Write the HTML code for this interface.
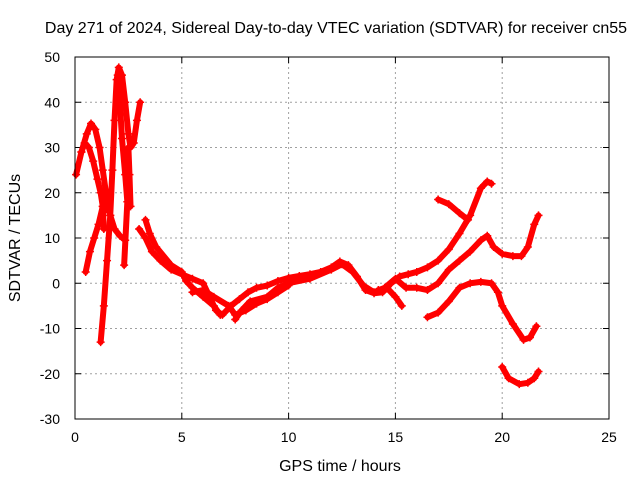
<!DOCTYPE html>
<html><head><meta charset="utf-8"><style>
body{margin:0;background:#fff}
svg{display:block;font-family:"Liberation Sans",sans-serif}
</style></head><body>
<svg id="chart" width="640" height="480">
<text x="336" y="33" font-size="16" text-anchor="middle">Day 271 of 2024, Sidereal Day-to-day VTEC variation (SDTVAR) for receiver cn55</text>
<text x="340" y="471" font-size="16" text-anchor="middle">GPS time / hours</text>
<text transform="translate(20,238) rotate(-90)" font-size="16" text-anchor="middle">SDTVAR / TECUs</text>
<g id="grid"></g><g id="series"></g>
<rect x="75" y="57" width="534" height="362" fill="none" stroke="#000" stroke-width="1"/>
</svg>
<script>
const xTicks=[0,5,10,15,20,25];
const yTicks=[-30,-20,-10,0,10,20,30,40,50];
const seriesA=[[0.05,24],[0.3,29],[0.55,33],[0.75,35.3],[0.95,34],[1.15,30],[1.3,25],[1.45,20],[1.55,16]];
const seriesB=[[0.3,29],[0.45,31],[0.65,30],[0.85,27],[1.05,23],[1.2,20],[1.3,17],[1.35,12]];
const seriesC=[[0.5,2.5],[0.7,7],[0.9,10],[1.1,13],[1.3,17],[1.4,20.5],[1.5,18],[1.65,15],[1.85,12],[2.1,10.5],[2.35,9.5]];
const seriesD=[[1.2,-13],[1.35,-5],[1.5,5],[1.65,15],[1.75,25],[1.85,36],[1.95,45],[2.05,47.7],[2.2,46],[2.35,40],[2.5,33],[2.6,30],[2.75,31],[2.9,36],[3.05,40]];
const seriesD2=[[2.0,46],[2.1,40],[2.2,32],[2.35,24],[2.45,18],[2.3,4]];
const seriesD3=[[2.5,30],[2.55,24],[2.6,17]];
const seriesE=[[3.0,12],[3.3,10],[3.6,7],[4.0,5],[4.5,3],[5.0,2],[5.5,1],[6.0,0],[6.3,-3],[6.6,-6],[6.9,-7],[7.3,-5],[7.7,-3.5],[8.1,-2],[8.5,-1],[9,-0.5],[9.5,0.5],[10,1.2],[10.5,1.6],[11,2],[11.5,2.5],[12,3.5],[12.4,4.8],[12.8,4],[13.2,1.5],[13.6,-1.5],[14,-2.2],[14.4,-2],[14.8,0],[15.2,1.5],[15.6,2],[16,2.5],[16.5,3.5],[17,5],[17.5,7.5],[18,11],[18.5,15],[19,21],[19.3,22.5],[19.5,22]];
const seriesF=[[3.3,14],[3.5,11],[3.8,8],[4.5,4],[5,2.5],[5.2,0.5],[5.5,-1],[6,-3],[6.5,-5],[6.8,-7]];
const seriesG=[[7.5,-8],[7.8,-6],[8.2,-4],[9,-3],[9.5,-1],[10,0],[11,1],[12,3],[12.5,4.2],[13,2.5],[13.5,-0.5],[14,-2],[14.5,-1],[15,1],[15.5,-1],[16,-1],[16.5,-1.5],[17,0],[17.5,3],[18,5],[18.5,7],[19,9.5],[19.3,10.5],[19.6,8],[20,6.5],[20.5,6],[20.9,6],[21.2,8],[21.5,13],[21.7,15]];
const seriesH=[[16.5,-7.5],[17,-6.5],[17.5,-4],[18,-1],[18.5,0],[19,0.3],[19.5,0],[19.8,-2],[20,-5],[20.5,-9],[21,-12.5],[21.3,-12],[21.6,-9.5]];
const seriesI=[[20.0,-18.5],[20.3,-21],[20.8,-22.3],[21.2,-22],[21.5,-21],[21.7,-19.5]];
const seriesJ=[[17,18.5],[17.5,17.5],[18,15.5],[18.4,14]];
const seriesK=[[5.5,-2],[6,-1.5],[6.5,-3],[7.2,-5],[7.5,-7],[8,-6],[8.5,-4.5],[9,-3.5],[9.5,-2],[10,-0.5]];
const seriesL=[[14.2,-1.5],[14.6,-1],[15,-3],[15.3,-5]];
const allSeries=[seriesA,seriesB,seriesC,seriesD,seriesD2,seriesD3,seriesE,seriesF,seriesG,seriesH,seriesI,seriesJ,seriesK,seriesL];
const X=h=>75+h*534/25, Y=v=>57+(50-v)*362/80;
const NS="http://www.w3.org/2000/svg";
const grid=document.getElementById('grid'), sg=document.getElementById('series');
function mk(tag,attrs,parent){const e=document.createElementNS(NS,tag);for(const k in attrs)e.setAttribute(k,attrs[k]);parent.appendChild(e);return e;}
xTicks.forEach(t=>{
  if(t>0&&t<25){const l=mk('line',{x1:X(t),x2:X(t),y1:57,y2:419,stroke:'#a0a0a0','stroke-dasharray':'2,3'},grid);
  
  }
  mk('line',{x1:X(t),x2:X(t),y1:419,y2:413,stroke:'#000'},grid);
  mk('line',{x1:X(t),x2:X(t),y1:57,y2:63,stroke:'#000'},grid);
  const tx=mk('text',{x:X(t),y:442,'font-size':14,'text-anchor':'middle'},grid);tx.textContent=t;
  
  
});
yTicks.forEach(t=>{
  if(t>-30&&t<50){const l=mk('line',{x1:75,x2:609,y1:Y(t),y2:Y(t),stroke:'#a0a0a0','stroke-dasharray':'2,3'},grid);
  
  }
  mk('line',{x1:75,x2:81,y1:Y(t),y2:Y(t),stroke:'#000'},grid);
  mk('line',{x1:609,x2:603,y1:Y(t),y2:Y(t),stroke:'#000'},grid);
  const tx=mk('text',{x:60,y:Y(t)+5,'font-size':14,'text-anchor':'end'},grid);tx.textContent=t;
  
  
});
allSeries.forEach(s=>{
  const p=mk('polyline',{points:s.map(d=>X(d[0])+','+Y(d[1])).join(' '),fill:'none',stroke:'#f00','stroke-width':6,'stroke-linejoin':'round','stroke-linecap':'round'},sg);
  
  
  s.forEach(d=>{
    const m=mk('path',{d:`M${X(d[0])-4},${Y(d[1])}h8M${X(d[0])},${Y(d[1])-4}v8`,stroke:'#f00','stroke-width':1.5},sg);
    
    
  });
});
</script>
</body></html>
